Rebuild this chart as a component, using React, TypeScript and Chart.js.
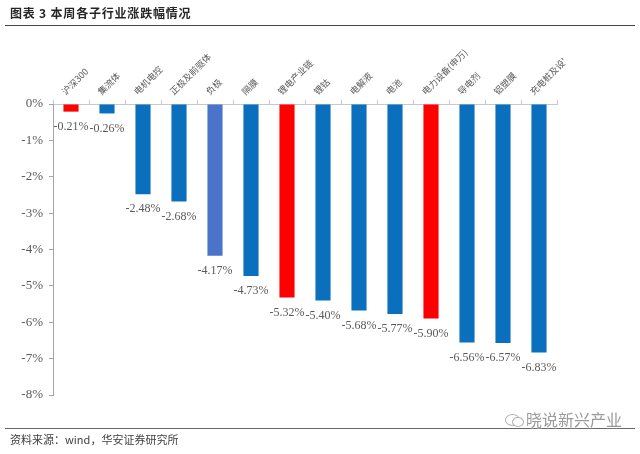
import React, { useEffect, useRef } from "react";
import { Chart, registerables } from "chart.js";

Chart.register(...registerables);

const categories = [
  "沪深300",
  "集流体",
  "电机电控",
  "正极及前驱体",
  "负极",
  "隔膜",
  "锂电产业链",
  "锂钴",
  "电解液",
  "电池",
  "电力设备(申万)",
  "导电剂",
  "铝塑膜",
  "充电桩及设'",
];

const changes = [-0.21, -0.26, -2.48, -2.68, -4.17, -4.73, -5.32, -5.4, -5.68, -5.77, -5.9, -6.56, -6.57, -6.83];

const yTicks = [0, -1, -2, -3, -4, -5, -6, -7, -8];

const BLUE = "#0a6fbd";
const RED = "#ff0000";
const LIGHT = "#4a74c9";
const barColors = [RED, BLUE, BLUE, BLUE, LIGHT, BLUE, RED, BLUE, BLUE, BLUE, RED, BLUE, BLUE, BLUE];

const SERIF = "'Liberation Serif', 'Times New Roman', serif";
const CJK = "'Noto Sans CJK SC', sans-serif";

const valueLabels = {
  id: "valueLabels",
  afterDatasetsDraw(chart: any) {
    const ctx = chart.ctx;
    const meta = chart.getDatasetMeta(0);
    ctx.save();
    ctx.font = `12px ${SERIF}`;
    ctx.fillStyle = "#595959";
    ctx.textAlign = "center";
    ctx.textBaseline = "middle";
    meta.data.forEach((el: any, i: number) => {
      const v = chart.data.datasets[0].data[i] as number;
      ctx.fillText(v.toFixed(2) + "%", el.x, el.y + 15);
    });
    ctx.restore();
  },
};

export default function App() {
  const ref = useRef<HTMLCanvasElement>(null);

  useEffect(() => {
    document.body.style.margin = "0";
    const chart = new Chart(ref.current!, {
      type: "bar",
      data: {
        labels: categories,
        datasets: [
          {
            data: changes,
            backgroundColor: barColors,
            borderWidth: 0,
            barPercentage: 0.42,
            categoryPercentage: 1,
          },
        ],
      },
      options: {
        responsive: false,
        animation: false,
        devicePixelRatio: 1,
        layout: { padding: { left: 0, top: 0, right: 83, bottom: 59 } },
        plugins: { legend: { display: false }, tooltip: { enabled: false } },
        scales: {
          x: {
            position: "top",
            afterFit: (s: any) => {
              s.height = 104;
            },
            grid: {
              display: true,
              drawOnChartArea: false,
              tickLength: 4,
              color: "#c8c8c8",
              offset: true,
            },
            border: { display: true, color: "#c8c8c8" },
            ticks: {
              autoSkip: false,
              minRotation: 45,
              maxRotation: 45,
              padding: 3,
              color: "#595959",
              font: { family: CJK, size: 9 },
            },
          },
          y: {
            min: -8,
            max: 0,
            afterFit: (s: any) => {
              s.width = 53;
            },
            afterBuildTicks: (s: any) => {
              s.ticks = yTicks.map((v) => ({ value: v }));
            },
            grid: {
              display: true,
              drawOnChartArea: false,
              tickLength: 4,
              color: "#a6a6a6",
            },
            border: { display: true, color: "#a6a6a6" },
            ticks: {
              padding: 6,
              color: "#595959",
              font: { family: SERIF, size: 13 },
              callback: (v: any) => `${v}%`,
            },
          },
        },
      },
      plugins: [valueLabels],
    });
    return () => chart.destroy();
  }, []);

  return (
    <div style={{ position: "relative", width: 640, height: 454, background: "#fff", overflow: "hidden" }}>
      <canvas ref={ref} width={640} height={454} style={{ position: "absolute", left: 0, top: 0 }} />
      <div
        style={{
          position: "absolute",
          left: 10,
          top: 5,
          fontFamily: CJK,
          fontWeight: 700,
          fontSize: 12,
          letterSpacing: 0.8,
          color: "#262626",
          lineHeight: "16px",
          whiteSpace: "nowrap",
        }}
      >
        图表 3 本周各子行业涨跌幅情况
      </div>
      <div style={{ position: "absolute", left: 5, right: 5, top: 25, height: 1, background: "#444" }} />
      <div style={{ position: "absolute", left: 5, right: 5, top: 428, height: 1, background: "#666" }} />
      <div
        style={{
          position: "absolute",
          left: 10,
          top: 432,
          fontFamily: CJK,
          fontSize: 11,
          color: "#404040",
          lineHeight: "14px",
          whiteSpace: "nowrap",
        }}
      >
        资料来源：wind，华安证券研究所
      </div>
      <div
        style={{
          position: "absolute",
          left: 503,
          top: 411,
          width: 22,
          height: 16,
          background: "#fff",
          borderRadius: 8,
        }}
      >
        <div
          style={{
            position: "absolute",
            left: 2,
            top: 3,
            width: 13,
            height: 10,
            border: "1px solid #b0b0b0",
            borderRadius: "50%",
          }}
        />
        <div
          style={{
            position: "absolute",
            left: 9,
            top: 6,
            width: 10,
            height: 8,
            border: "1px solid #b0b0b0",
            borderRadius: "50%",
            background: "#fff",
          }}
        />
      </div>
      <div
        style={{
          position: "absolute",
          left: 526,
          top: 409,
          fontFamily: CJK,
          fontSize: 16,
          color: "#9a9a9a",
          lineHeight: "20px",
          whiteSpace: "nowrap",
          textShadow: "0 0 2px #fff, 0 0 2px #fff",
        }}
      >
        晓说新兴产业
      </div>
    </div>
  );
}
